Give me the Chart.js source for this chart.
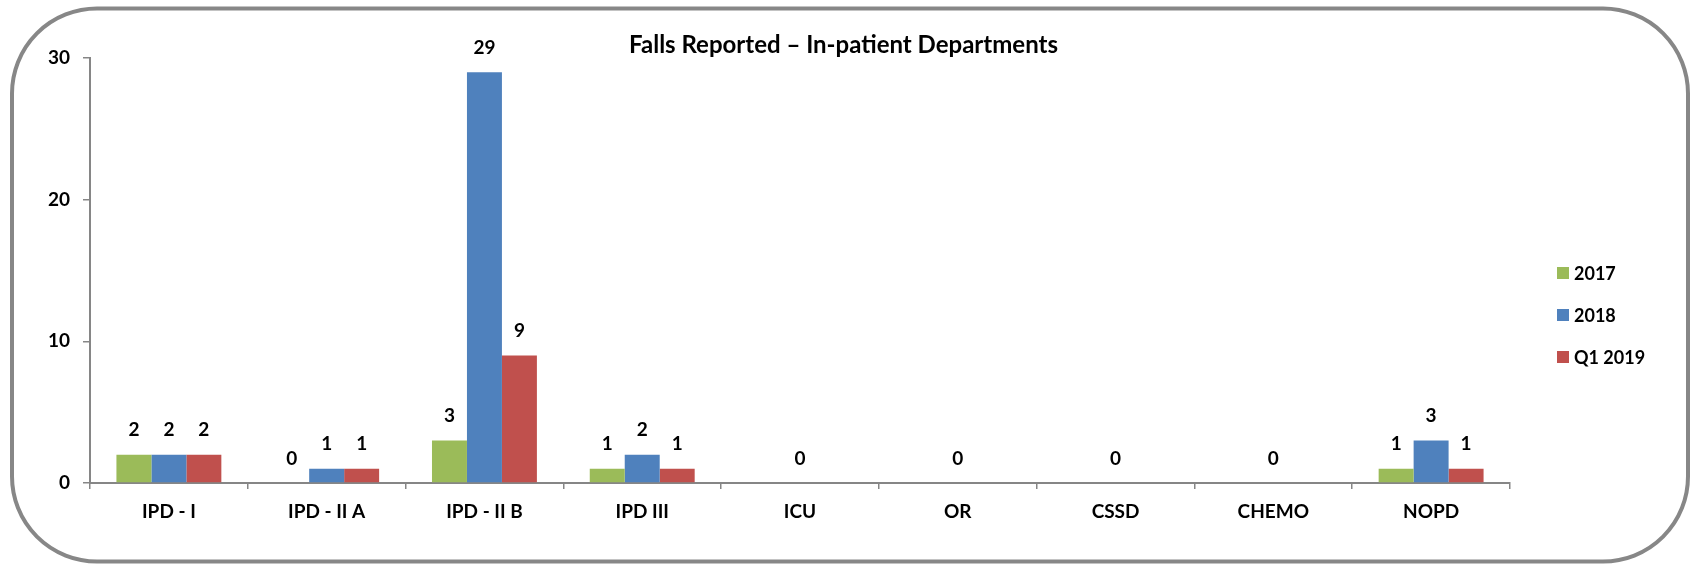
<!DOCTYPE html>
<html>
<head>
<meta charset="utf-8">
<script src="https://cdn.jsdelivr.net/npm/chart.js@4.4.1/dist/chart.umd.min.js"></script>
<style>
  html, body { margin: 0; padding: 0; background: #ffffff; }
  #wrap { position: relative; width: 1696px; height: 567px; }
  canvas { display: block; }
</style>
</head>
<body>
<div id="wrap"><canvas id="c" width="1696" height="567"></canvas></div>
<script>
const chartTitle = "Falls Reported \u2013 In-patient Departments";
const categories = ["IPD - I", "IPD - II A", "IPD - II B", "IPD III", "ICU", "OR", "CSSD", "CHEMO", "NOPD"];
const seriesNames = ["2017", "2018", "Q1 2019"];
const values2017 = [2, 0, 3, 1, null, null, null, null, 1];
const values2018 = [2, 1, 29, 2, 0, 0, 0, 0, 3];
const valuesQ12019 = [2, 1, 9, 1, null, null, null, null, 1];
const yTicks = [0, 10, 20, 30];

const seriesColors = ["#9BBB59", "#4F81BD", "#C0504D"];
const FONT = "Lato, 'Open Sans', 'Liberation Sans', sans-serif";
const GREY = "#868686";

const framePlugin = {
  id: "frame",
  beforeDraw(chart) {
    const ctx = chart.ctx;
    ctx.save();
    ctx.fillStyle = "#ffffff";
    ctx.fillRect(0, 0, chart.width, chart.height);
    ctx.beginPath();
    ctx.roundRect(12, 8.5, 1676, 553, 85);
    ctx.lineWidth = 4;
    ctx.strokeStyle = "#878787";
    ctx.stroke();
    ctx.restore();
  }
};

const titlePlugin = {
  id: "customTitle",
  afterDraw(chart) {
    const ctx = chart.ctx;
    ctx.save();
    ctx.font = "bold 24px " + FONT;
    ctx.fillStyle = "#000000";
    ctx.textAlign = "center";
    ctx.textBaseline = "middle";
    ctx.fillText(chartTitle, 843.5, 45);
    ctx.restore();
  }
};

const valueLabelPlugin = {
  id: "valueLabels",
  afterDatasetsDraw(chart) {
    const ctx = chart.ctx;
    ctx.save();
    ctx.font = "bold 19px " + FONT;
    ctx.fillStyle = "#000000";
    ctx.textAlign = "center";
    ctx.textBaseline = "middle";
    chart.data.datasets.forEach((ds, i) => {
      const meta = chart.getDatasetMeta(i);
      meta.data.forEach((el, j) => {
        const v = ds.data[j];
        if (v === null || v === undefined) return;
        ctx.fillText(String(v), el.x, el.y - 24.5);
      });
    });
    ctx.restore();
  }
};

const legendPlugin = {
  id: "customLegend",
  afterDraw(chart) {
    const ctx = chart.ctx;
    ctx.save();
    ctx.font = "bold 18px " + FONT;
    ctx.textAlign = "left";
    ctx.textBaseline = "middle";
    const ys = [273, 315, 357];
    chart.data.datasets.forEach((ds, i) => {
      const y = ys[i];
      ctx.fillStyle = ds.backgroundColor;
      ctx.fillRect(1557, y - 6, 12, 12);
      ctx.fillStyle = "#000000";
      ctx.fillText(ds.label, 1574, y + 1);
    });
    ctx.restore();
  }
};

const allSeries = [values2017, values2018, valuesQ12019];

new Chart(document.getElementById("c"), {
  type: "bar",
  data: {
    labels: categories,
    datasets: allSeries.map((vals, i) => ({
      label: seriesNames[i],
      data: vals,
      backgroundColor: seriesColors[i],
      borderWidth: 0,
      categoryPercentage: 0.665,
      barPercentage: 1.0
    }))
  },
  options: {
    responsive: false,
    animation: false,
    devicePixelRatio: 1,
    layout: { padding: { left: 0, top: 58, right: 186, bottom: 0 } },
    plugins: {
      legend: { display: false },
      title: { display: false },
      tooltip: { enabled: false }
    },
    scales: {
      x: {
        type: "category",
        afterFit(scale) { scale.height = 84; },
        grid: {
          offset: true,
          drawOnChartArea: false,
          drawTicks: true,
          tickLength: 6,
          color: GREY,
          lineWidth: 1.5
        },
        border: { color: GREY, width: 2 },
        ticks: {
          color: "#000000",
          font: { family: FONT, size: 19, weight: "bold" },
          padding: 11,
          maxRotation: 0,
          autoSkip: false
        }
      },
      y: {
        min: 0,
        max: 30,
        afterFit(scale) { scale.width = 90; },
        afterBuildTicks(scale) { scale.ticks = yTicks.map(v => ({ value: v })); },
        grid: {
          drawOnChartArea: false,
          drawTicks: true,
          tickLength: 7,
          color: GREY,
          lineWidth: 1.5
        },
        border: { color: GREY, width: 2 },
        ticks: {
          color: "#000000",
          font: { family: FONT, size: 19, weight: "bold" },
          padding: 13
        }
      }
    }
  },
  plugins: [framePlugin, valueLabelPlugin, titlePlugin, legendPlugin]
});
</script>
</body>
</html>
